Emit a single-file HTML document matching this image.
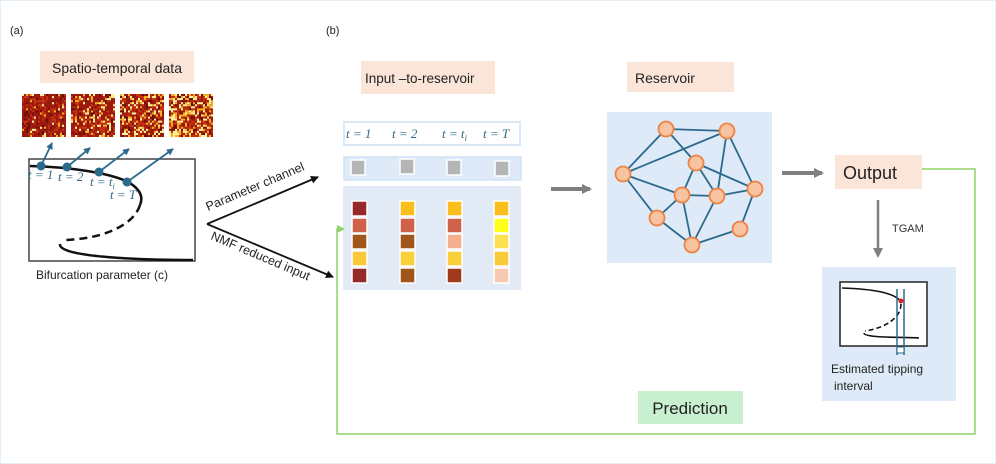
<!DOCTYPE html>
<html><head><meta charset="utf-8"><style>
html,body{margin:0;padding:0;background:#fff}
svg{display:block}
text{font-family:"Liberation Sans",sans-serif}
.m{font-family:"Liberation Serif",serif;font-style:italic;fill:#2f6a8a}
</style></head><body>
<svg width="996" height="464" viewBox="0 0 996 464" xmlns="http://www.w3.org/2000/svg">
<defs>
<marker id="ab" markerWidth="8" markerHeight="8" refX="7" refY="4" orient="auto" markerUnits="userSpaceOnUse"><path d="M0,0 L8,4 L0,8 z" fill="#111"/></marker>
<marker id="at" markerWidth="7" markerHeight="7" refX="6" refY="3.5" orient="auto" markerUnits="userSpaceOnUse"><path d="M0,0 L7,3.5 L0,7 z" fill="#2c6a8c"/></marker>
<marker id="ag" markerWidth="10" markerHeight="10" refX="8" refY="5" orient="auto" markerUnits="userSpaceOnUse"><path d="M0,0 L10,5 L0,10 z" fill="#7f7f7f"/></marker>
<marker id="agr" markerWidth="8" markerHeight="8" refX="7" refY="4" orient="auto" markerUnits="userSpaceOnUse"><path d="M0,0 L8,4 L0,8 z" fill="#8fd46a"/></marker>
</defs>
<rect x="0.5" y="0.5" width="995" height="463" fill="#fff" stroke="#e3eef7"/>
<text x="10" y="34" font-size="11" fill="#222">(a)</text>
<text x="326" y="34" font-size="11" fill="#222">(b)</text>

<!-- (a) -->
<rect x="40" y="51" width="154" height="32" fill="#fbe5d8"/>
<text x="117" y="73" font-size="14" fill="#222" text-anchor="middle">Spatio-temporal data</text>
<g id="hm"></g>
<rect x="29" y="159" width="166" height="102" fill="#fff" stroke="#444" stroke-width="1.5"/>
<path d="M30,166 C70,167 110,173 128,182 C142,190 143,198 140,205" fill="none" stroke="#111" stroke-width="2.5"/>
<path d="M140,205 C135,222 110,238 66,240" fill="none" stroke="#111" stroke-width="2.5" stroke-dasharray="8,5"/>
<path d="M60,244 C58,258 150,260 193,260" fill="none" stroke="#111" stroke-width="2.5"/>
<g stroke="#2c6a8c" stroke-width="1.8" marker-end="url(#at)">
<line x1="41" y1="166" x2="52" y2="143"/><line x1="67" y1="167" x2="90" y2="148"/>
<line x1="99" y1="172" x2="129" y2="149"/><line x1="127" y1="182" x2="173" y2="149"/>
</g>
<g fill="#2c6a8c"><circle cx="41" cy="166" r="4.5"/><circle cx="67" cy="167" r="4.5"/><circle cx="99" cy="172" r="4.5"/><circle cx="127" cy="182" r="4.5"/></g>
<text class="m" x="28" y="179" font-size="13">t = 1</text>
<text class="m" x="58" y="181" font-size="13">t = 2</text>
<text class="m" x="90" y="186" font-size="13">t = t<tspan font-size="8" dy="3">i</tspan></text>
<text class="m" x="110" y="199" font-size="13">t = T</text>
<text x="36" y="279" font-size="12" fill="#222">Bifurcation parameter (c)</text>
<line x1="207" y1="224" x2="318" y2="177" stroke="#111" stroke-width="1.8" marker-end="url(#ab)"/>
<line x1="207" y1="224" x2="333" y2="277" stroke="#111" stroke-width="1.8" marker-end="url(#ab)"/>
<text x="0" y="0" font-size="12.5" fill="#222" transform="translate(208,211) rotate(-23)">Parameter channel</text>
<text x="0" y="0" font-size="12.5" fill="#222" transform="translate(210,239) rotate(23)">NMF reduced input</text>

<!-- (b) -->
<rect x="361" y="61" width="134" height="33" fill="#fbe5d8"/>
<text x="365" y="83" font-size="13.5" fill="#222">Input –to-reservoir</text>
<rect x="344" y="122" width="176" height="23" fill="#fff" stroke="#dbe8f5" stroke-width="2"/>
<text class="m" x="346" y="138" font-size="13">t = 1</text>
<text class="m" x="392" y="138" font-size="13">t = 2</text>
<text class="m" x="442" y="138" font-size="13">t = t<tspan font-size="9" dy="3">i</tspan></text>
<text class="m" x="483" y="138" font-size="13" dy="0">t = T</text>
<rect x="344" y="157" width="177" height="23" fill="#deeaf7" stroke="#cfe3f5" stroke-width="1.5"/>
<g fill="#b5b5b5" stroke="#fff" stroke-width="1.5">
<rect x="351" y="160" width="14" height="15"/><rect x="400" y="159" width="14" height="15"/><rect x="447" y="160" width="14" height="15"/><rect x="495" y="161" width="14" height="15"/>
</g>
<rect x="343" y="186" width="178" height="104" fill="#e1eaf5"/>
<g stroke="#fff" stroke-width="1.5" id="cols"></g>
<line x1="551" y1="189" x2="590" y2="189" stroke="#7f7f7f" stroke-width="4" marker-end="url(#ag)"/>

<rect x="627" y="62" width="107" height="30" fill="#fbe5d8"/>
<text x="635" y="83" font-size="14" fill="#222">Reservoir</text>
<rect x="607" y="112" width="165" height="151" fill="#deeaf7"/>
<g stroke="#2c6a8c" stroke-width="1.8" id="edges"></g>
<g fill="#f8c3a0" stroke="#ee8344" stroke-width="1.8" id="nodes"></g>

<line x1="782" y1="173" x2="822" y2="173" stroke="#7f7f7f" stroke-width="4" marker-end="url(#ag)"/>
<rect x="835" y="155" width="87" height="34" fill="#fbe5d8"/>
<text x="843" y="179" font-size="18" fill="#222">Output</text>
<line x1="878" y1="200" x2="878" y2="256" stroke="#7f7f7f" stroke-width="2.5" marker-end="url(#ag)"/>
<text x="892" y="232" font-size="11" fill="#333">TGAM</text>
<rect x="822" y="267" width="134" height="134" fill="#deeaf7"/>
<rect x="840" y="282" width="87" height="64" fill="#fff" stroke="#222" stroke-width="1.5"/>
<path d="M842,288 C870,289 895,292 901,302" fill="none" stroke="#111" stroke-width="1.6"/>
<path d="M901,304 C901,318 885,328 865,331" fill="none" stroke="#111" stroke-width="1.6" stroke-dasharray="5,3"/>
<path d="M864,333 C864,338 900,337 919,338" fill="none" stroke="#111" stroke-width="1.6"/>
<line x1="897" y1="289" x2="897" y2="355" stroke="#2c6a8c" stroke-width="1.5"/>
<line x1="904" y1="289" x2="904" y2="355" stroke="#2c6a8c" stroke-width="1.5"/>
<rect x="897" y="347" width="7" height="6" fill="#fff" stroke="#2c6a8c"/>
<circle cx="901" cy="301" r="2.5" fill="#e02020"/>
<text x="831" y="373" font-size="12" fill="#222">Estimated tipping</text>
<text x="834" y="390" font-size="12" fill="#222">interval</text>

<rect x="638" y="391" width="105" height="33" fill="#c8f0d0"/>
<text x="690" y="414" font-size="17" fill="#222" text-anchor="middle">Prediction</text>
<polyline points="922,169 975,169 975,434 337,434 337,229 344,229" fill="none" stroke="#8fd46a" stroke-width="1.5" marker-end="url(#agr)"/>
</svg>
<script>
(function(){
var ns="http://www.w3.org/2000/svg";
function el(p,t,a){var e=document.createElementNS(ns,t);for(var k in a)e.setAttribute(k,a[k]);p.appendChild(e);return e;}
var cols=document.getElementById('cols');
var xs=[353,401,448,495],ys=[201,218,234,251,268];
var C=[["#962a2a","#d0614a","#a05519","#f9c93a","#962a2a"],["#fbbf1c","#d0614a","#a05519","#f9cf3a","#a05519"],["#fbbf1c","#d0614a","#f4b08e","#f9cf3a","#a03a1e"],["#fbbf1c","#ffff1a","#fde150","#f9cb3a","#f7c9b0"]];
for(var i=0;i<4;i++)for(var j=0;j<5;j++)el(cols,'rect',{x:xs[i]-1,y:ys[j],width:15,height:15,fill:C[i][j]});
var N=[[666,129],[727,131],[623,174],[696,163],[682,195],[717,196],[755,189],[657,218],[740,229],[692,245]];
var E=[[0,1],[0,2],[0,3],[1,2],[1,5],[1,6],[2,4],[2,7],[3,4],[3,5],[3,6],[4,5],[4,7],[4,9],[5,6],[5,9],[6,8],[7,9],[9,8]];
var eg=document.getElementById('edges'),ng=document.getElementById('nodes');
E.forEach(function(e){el(eg,'line',{x1:N[e[0]][0],y1:N[e[0]][1],x2:N[e[1]][0],y2:N[e[1]][1]});});
N.forEach(function(n){el(ng,'circle',{cx:n[0],cy:n[1],r:7.5});});
var hm=document.getElementById('hm');var seed=7;function r(){seed=(seed*16807)%2147483647;return seed/2147483647;}
var X=[22,71,120,169],bright=[0.08,0.2,0.32,0.45];
for(var k=0;k<4;k++){el(hm,'rect',{x:X[k],y:94,width:44,height:43,fill:"#9a1a10"});
for(var a=0;a<22;a++)for(var b=0;b<21;b++){var v=r();var f=null;
if(v<bright[k]*0.5)f="#fff3a0";else if(v<bright[k])f="#f6b020";else if(v<bright[k]+0.25)f="#c8320f";else if(v<bright[k]+0.35)f="#6e0d08";
if(f)el(hm,'rect',{x:X[k]+a*2,y:94+b*2.05,width:2,height:2.05,fill:f});}}
})();
</script>
</body></html>
